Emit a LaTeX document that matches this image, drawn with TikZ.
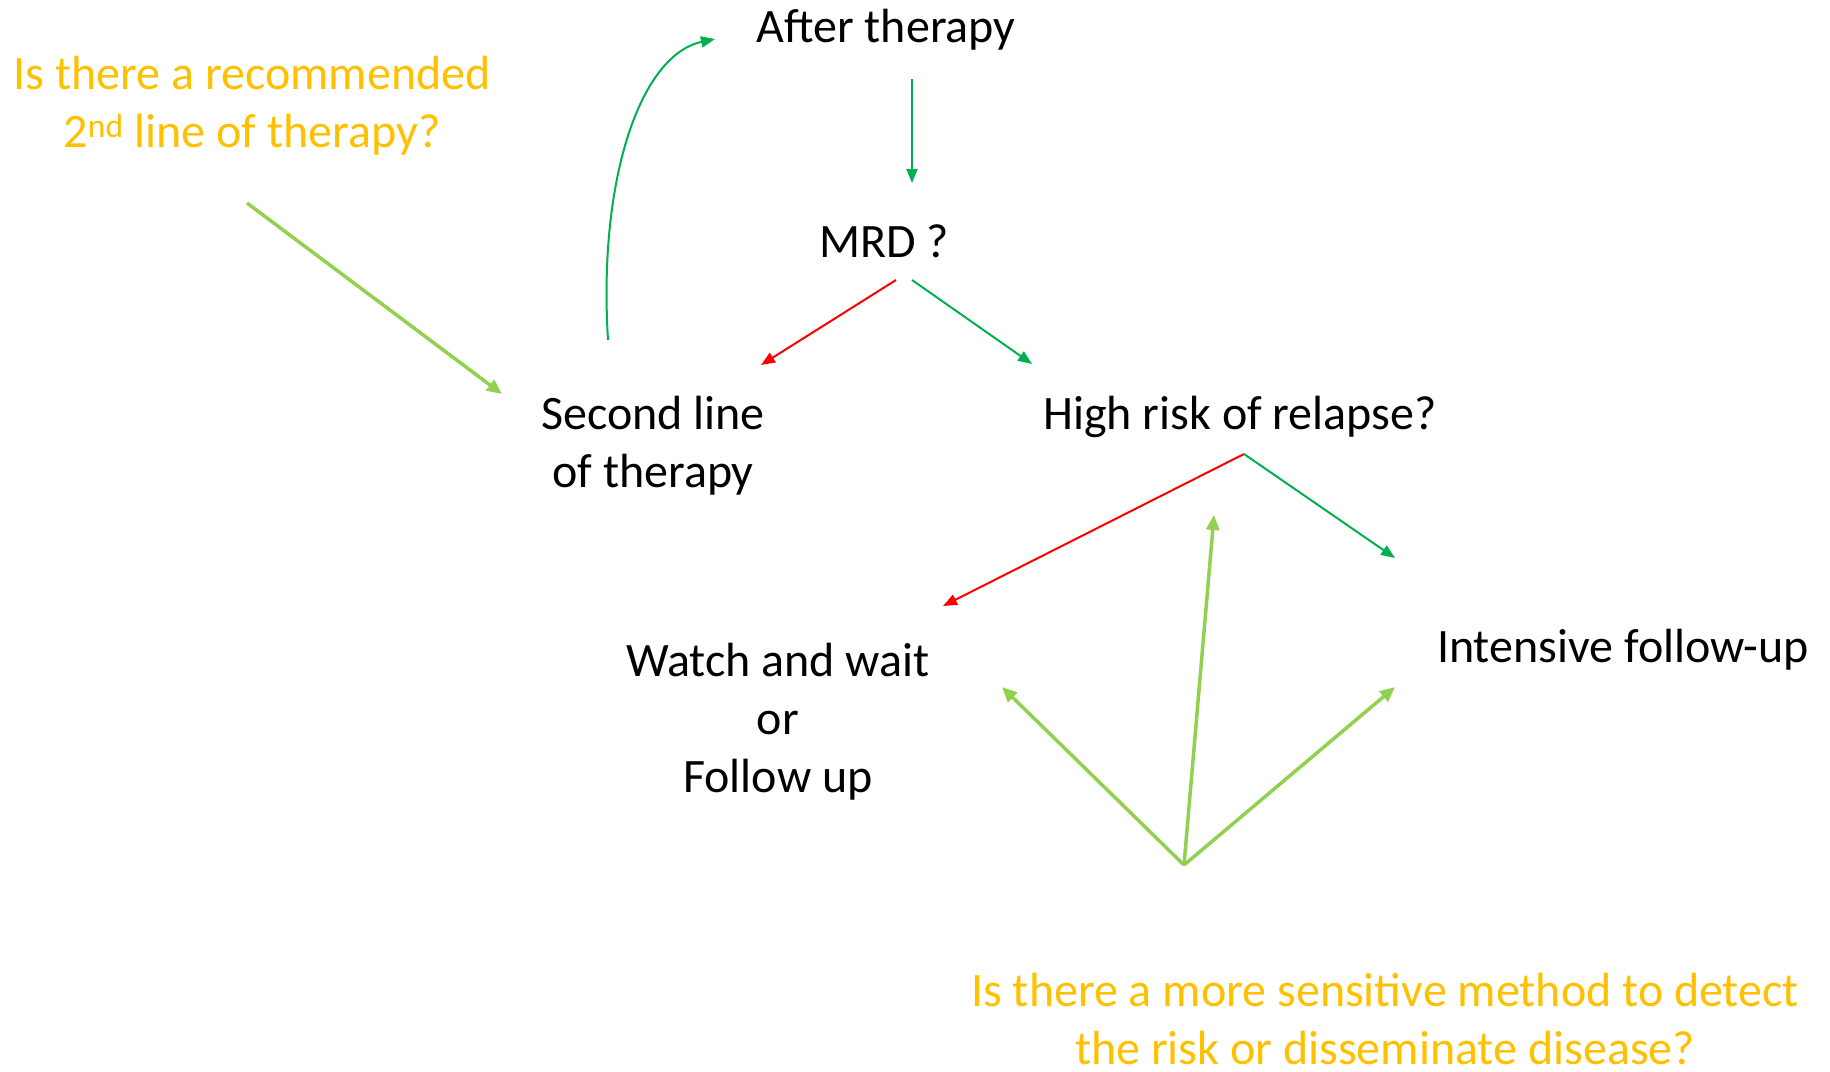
\documentclass[tikz,border=0pt]{standalone}
\usepackage{fontspec}
\setmainfont{Carlito}
\usetikzlibrary{arrows.meta}
\definecolor{orng}{HTML}{FFC000}
\definecolor{grn}{HTML}{00B050}
\definecolor{lgrn}{HTML}{92D050}
\definecolor{rd}{HTML}{FF0000}
\begin{document}
\begin{tikzpicture}[x=1pt,y=-1pt,
  txt/.style={font=\fontsize{48}{58}\selectfont, inner sep=0pt, anchor=base, align=center},
  qtxt/.style={txt, text=orng},
  garrow/.style={draw=grn, line width=2pt, -{Triangle[length=14pt,width=11pt]}},
  rarrow/.style={draw=rd, line width=2pt, -{Triangle[length=14pt,width=11pt]}},
  larrow/.style={draw=lgrn, line width=3.5pt, -{Triangle[length=15pt,width=13pt]}}
]
\useasboundingbox (0,0) rectangle (1830,1071);

% texts (base anchor = baseline of last line)
\node[txt] (after) at (886,42) {After therapy};
\node[txt] (mrd) at (884,257) {MRD ?};
\node[txt] (second) at (653,487) {Second line\\ of therapy};
\node[txt] (high) at (1240,429) {High risk of relapse?};
\node[txt] (watch) at (778,792) {Watch and wait\\or\\Follow up};
\node[txt] (intens) at (1623,662) {Intensive follow-up};
\node[qtxt] (q1) at (252,147) {Is there a recommended\\ 2\textsuperscript{nd} line of therapy?};
\node[qtxt] (q2) at (1385,1064) {Is there a more sensitive method to detect\\the risk or disseminate disease?};

% anchor points
\coordinate (q1s) at (247,203);
\coordinate (q1e) at (502,394);
\coordinate (curves) at (608,340);
\coordinate (curvee) at (715,39);
\coordinate (afters) at (912,79);
\coordinate (aftere) at (912,183);
\coordinate (mrdl) at (896,280);
\coordinate (mrdr) at (912,280);
\coordinate (secondt) at (761,365);
\coordinate (hight) at (1032,364);
\coordinate (highs) at (1244,454);
\coordinate (watcht) at (943,606);
\coordinate (intenst) at (1395,558);
\coordinate (q2s) at (1184,865);
\coordinate (watchb) at (1002,687);
\coordinate (mid) at (1214,515);
\coordinate (intensb) at (1395,687);

% connectors
\draw[larrow] (q1s) -- (q1e);
\draw[garrow] (curves) .. controls (598,180) and (640,55) .. (curvee);
\draw[garrow] (afters) -- (aftere);
\draw[rarrow] (mrdl) -- (secondt);
\draw[garrow] (mrdr) -- (hight);
\draw[rarrow] (highs) -- (watcht);
\draw[garrow] (highs) -- (intenst);
\draw[larrow] (q2s) -- (watchb);
\draw[larrow] (q2s) -- (mid);
\draw[larrow] (q2s) -- (intensb);
\end{tikzpicture}
\end{document}
